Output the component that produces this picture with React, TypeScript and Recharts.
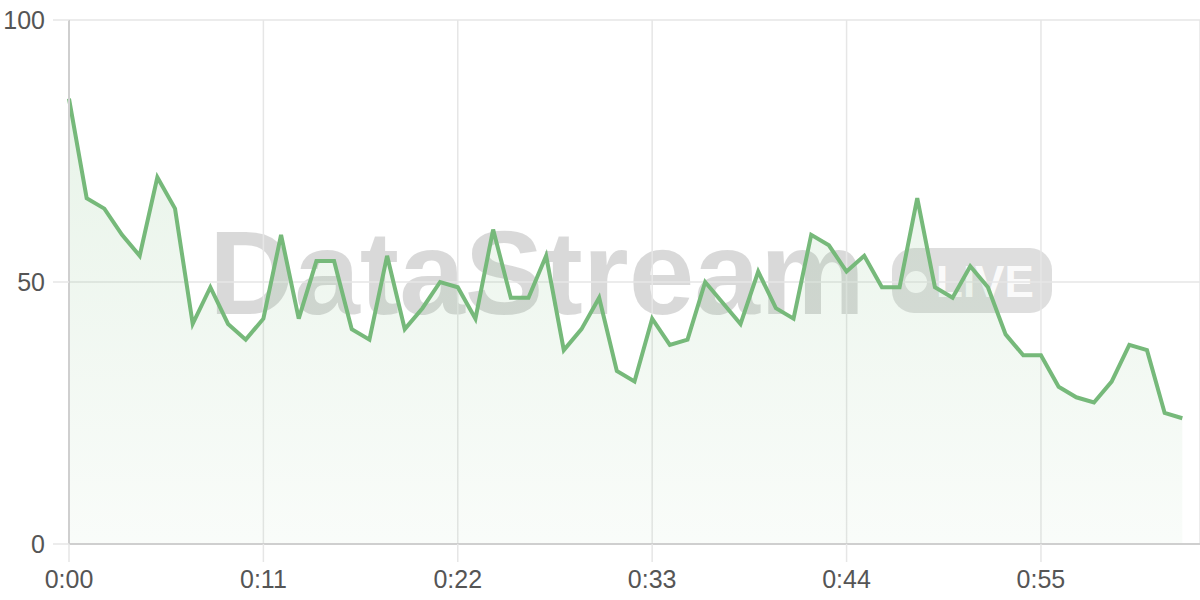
import React from 'react';
import { Area, AreaChart, CartesianGrid, XAxis, YAxis } from 'recharts';

const seconds = [
	0, 1, 2, 3, 4, 5, 6, 7, 8, 9, 10, 11, 12, 13, 14, 15, 16, 17, 18, 19, 20, 21,
	22, 23, 24, 25, 26, 27, 28, 29, 30, 31, 32, 33, 34, 35, 36, 37, 38, 39, 40,
	41, 42, 43, 44, 45, 46, 47, 48, 49, 50, 51, 52, 53, 54, 55, 56, 57, 58, 59,
	60, 61, 62, 63,
];

const values = [
	85, 66, 64, 59, 55, 70, 64, 42, 49, 42, 39, 43, 59, 43, 54, 54, 41, 39, 55,
	41, 45, 50, 49, 43, 60, 47, 47, 55, 37, 41, 47, 33, 31, 43, 38, 39, 50, 46,
	42, 52, 45, 43, 59, 57, 52, 55, 49, 49, 66, 49, 47, 53, 49, 40, 36, 36, 30,
	28, 27, 31, 38, 37, 25, 24,
];

const xTicks = [0, 11, 22, 33, 44, 55];
const yTicks = [0, 50, 100];

const data = seconds.map((t, i) => ({ t, v: values[i] }));

const fmtTime = (s: number) => `${Math.floor(s / 60)}:${String(s % 60).padStart(2, '0')}`;

const tickStyle = { fontSize: 25, fill: '#555', fontFamily: 'Liberation Sans, Arial, sans-serif' };

const Watermark = () => (
	<svg width={1200} height={600} style={{ position: 'absolute', left: 0, top: 0 }}>
		<text
			x={209}
			y={314}
			fontFamily="Liberation Sans, Arial, sans-serif"
			fontWeight="bold"
			fontSize={118}
			fill="#000"
			fillOpacity={0.15}>
			DataStream
		</text>
		<rect x={892} y={248} width={160} height={65} rx={22} fill="#000" fillOpacity={0.13} />
		<circle cx={916} cy={282} r={11} fill="#fff" fillOpacity={0.85} />
		<text
			x={936}
			y={297}
			fontFamily="Liberation Sans, Arial, sans-serif"
			fontWeight="bold"
			fontSize={44}
			fill="#fff"
			fillOpacity={0.9}>
			LIVE
		</text>
	</svg>
);

export default function App() {
	return (
		<div style={{ position: 'absolute', left: 0, top: 0, width: 1200, height: 600, background: '#fff' }}>
			<Watermark />
			<div style={{ position: 'absolute', left: 0, top: 0 }}>
				<AreaChart
					width={1200}
					height={600}
					data={data}
					margin={{ top: 20, right: 0, left: 0, bottom: 0 }}>
					<defs>
						<linearGradient id="fillGreen" x1="0" y1="0" x2="0" y2="1">
							<stop offset="0%" stopColor="#76b97a" stopOpacity={0.28} />
							<stop offset="100%" stopColor="#76b97a" stopOpacity={0.07} />
						</linearGradient>
					</defs>
					<CartesianGrid stroke="#e6e6e6" strokeWidth={1.5} />
					<XAxis
						dataKey="t"
						type="number"
						domain={[0, 64]}
						ticks={xTicks}
						tickFormatter={fmtTime}
						height={56}
						tickSize={18}
						tickMargin={8}
						tick={tickStyle}
						axisLine={{ stroke: '#cfcfcf', strokeWidth: 2 }}
						tickLine={{ stroke: '#e6e6e6', strokeWidth: 1.5 }}
					/>
					<YAxis
						domain={[0, 100]}
						ticks={yTicks}
						width={69}
						tickSize={16}
						tickMargin={8}
						tick={tickStyle}
						axisLine={{ stroke: '#cfcfcf', strokeWidth: 2 }}
						tickLine={{ stroke: '#e6e6e6', strokeWidth: 1.5 }}
					/>
					<Area
						type="linear"
						dataKey="v"
						stroke="#76b97a"
						strokeWidth={4}
						fill="url(#fillGreen)"
						dot={false}
						activeDot={false}
						isAnimationActive={false}
					/>
				</AreaChart>
			</div>
		</div>
	);
}
